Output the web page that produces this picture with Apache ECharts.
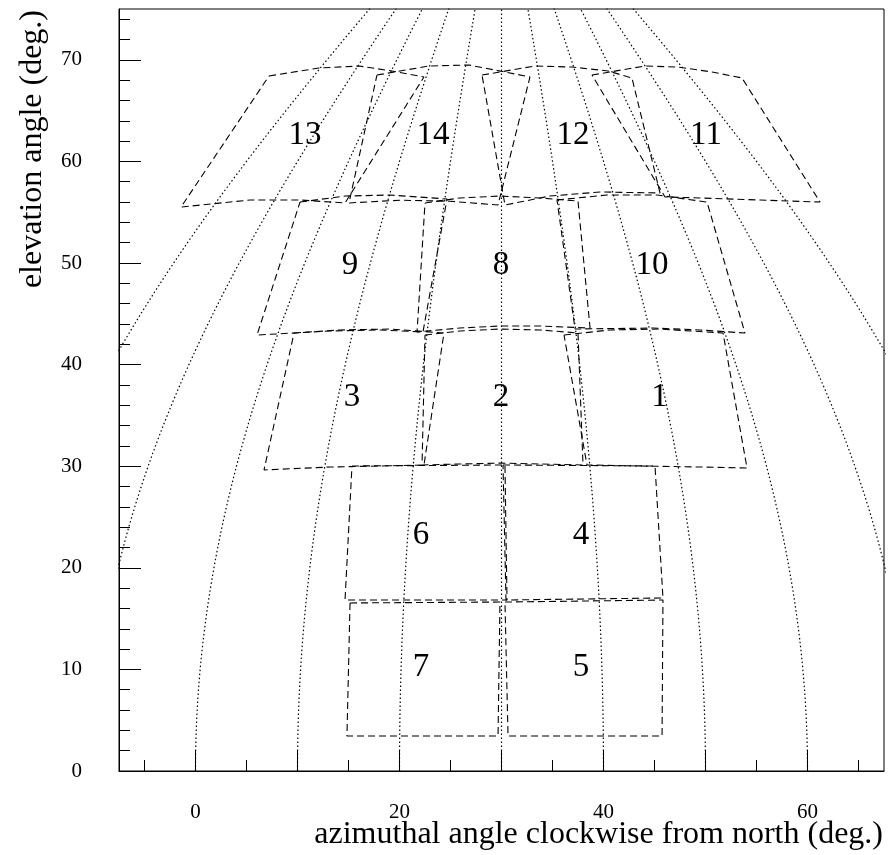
<!DOCTYPE html>
<html>
<head>
<meta charset="utf-8">
<script src="https://cdn.jsdelivr.net/npm/echarts@6/dist/echarts.min.js"></script>
<style>
html,body{margin:0;padding:0;background:#fff;}
#chart{width:889px;height:855px;}
</style>
</head>
<body>
<div id="chart"></div>
<script>
// ---- axis ticks / labels ----
const xLabelValues = [0, 20, 40, 60];
const xMajorTicks = [0, 10, 20, 30, 40, 50, 60];
const xMinorTicks = [-5, 5, 15, 25, 35, 45, 55, 65];
const yLabelValues = [0, 10, 20, 30, 40, 50, 60, 70];
const yMajorTicks = [0, 10, 20, 30, 40, 50, 60, 70];
const yMinorTicks = [2,4,6,8,12,14,16,18,22,24,26,28,32,34,36,38,42,44,46,48,52,54,56,58,62,64,66,68,72,74];

// ---- graticule: meridians of constant azimuth (deg.) ----
const meridianAz = [-20, -10, 0, 10, 20, 30, 40, 50, 60, 70, 80];
const centerAz = 30;

// ---- field numbers and label positions ----
const fieldIds = ['1','2','3','4','5','6','7','8','9','10','11','12','13','14'];
const labelX = [45.5, 29.95, 15.35, 37.8, 37.8, 22.1, 22.1, 29.95, 15.15, 44.75, 50.05, 37.0, 10.74, 23.28];
const labelY = [36.8, 36.8, 36.8, 23.2, 10.2, 23.2, 10.2, 49.8, 49.8, 49.8, 62.6, 62.6, 62.6, 62.6];

// ---- field outlines (projected azimuth, elevation) ----
const field1 = [[36.13,42.91],[40.64,43.41],[45.54,43.50],[51.72,43.11],[54.07,29.82],[49.46,29.92],[43.58,30.02],[38.38,30.12],[36.13,42.91]];
const field2 = [[22.50,42.91],[25.93,43.31],[29.85,43.50],[33.77,43.41],[37.50,43.11],[37.99,30.12],[33.77,30.22],[29.85,30.31],[25.93,30.22],[22.21,30.12],[22.50,42.91]];
const field3 = [[9.66,43.11],[14.17,43.41],[19.07,43.50],[24.36,43.11],[22.40,30.12],[18.09,30.02],[13.19,29.92],[6.72,29.63],[9.66,43.11]];
const field4 = [[30.15,30.12],[45.05,30.02],[45.83,17.03],[30.44,16.83],[30.15,30.12]];
const field5 = [[30.34,16.63],[45.83,16.83],[45.74,3.44],[30.64,3.44],[30.34,16.63]];
const field6 = [[15.34,30.02],[30.34,30.12],[30.54,16.83],[14.66,16.83],[15.34,30.02]];
const field7 = [[15.15,16.54],[29.85,16.63],[29.66,3.44],[14.85,3.44],[15.15,16.54]];
const field8 = [[22.50,55.91],[25.93,56.40],[29.85,56.59],[33.77,56.40],[37.50,56.10],[38.68,43.60],[33.77,43.80],[29.85,43.80],[25.93,43.60],[21.72,43.21],[22.50,55.91]];
const field9 = [[10.25,56.00],[14.66,56.59],[19.07,56.69],[24.66,56.30],[22.30,43.21],[18.09,43.41],[13.19,43.31],[6.03,42.91],[10.25,56.00]];
const field10 = [[35.44,56.20],[40.34,56.69],[45.25,56.69],[50.15,56.00],[53.87,43.11],[49.46,43.41],[44.85,43.60],[37.21,43.50],[35.44,56.20]];
const field11 = [[38.87,68.50],[44.07,69.39],[47.30,69.29],[50.64,68.80],[53.58,68.21],[61.23,56.00],[55.34,56.20],[49.46,56.40],[46.03,56.50],[38.87,68.50]];
const field12 = [[28.09,68.50],[33.28,69.39],[36.91,69.29],[40.44,68.90],[42.79,68.21],[45.54,56.89],[39.66,56.99],[34.75,56.59],[30.34,55.71],[28.09,68.50]];
const field13 = [[7.21,68.41],[12.11,69.19],[16.03,69.39],[19.26,68.90],[22.40,68.31],[14.66,55.91],[10.25,56.20],[5.34,56.20],[-1.42,55.51],[7.21,68.41]];
const field14 = [[17.79,68.50],[22.89,69.39],[26.81,69.49],[29.36,68.99],[32.79,68.31],[29.66,55.71],[24.95,56.08],[20.05,56.18],[15.05,55.91],[17.79,68.50]];
const fields = [field1, field2, field3, field4, field5, field6, field7, field8, field9, field10, field11, field12, field13, field14];

const serif = 'Liberation Serif';

// graticule curves through the display projection
function meridianPath(az) {
  const pts = [];
  for (let el = 0; el <= 76; el += 0.5) {
    const x = centerAz + (az - centerAz) * Math.cos(el * Math.PI / 180);
    pts.push([x, el]);
  }
  return pts;
}

const series = [];
meridianAz.forEach(function (az) {
  series.push({
    type: 'line', data: meridianPath(az), showSymbol: false, silent: true,
    clip: true, z: 1,
    lineStyle: { color: '#000', width: 1.2, type: [1.5, 2.5] }
  });
});
fields.forEach(function (f) {
  series.push({
    type: 'line', data: f, showSymbol: false, silent: true, clip: true, z: 2,
    lineStyle: { color: '#000', width: 1.1, type: [7, 4] }
  });
});
series.push({
  type: 'scatter', silent: true, z: 3,
  symbolSize: 2, itemStyle: { color: 'rgba(0,0,0,0)' },
  data: fieldIds.map(function (id, i) { return { value: [labelX[i], labelY[i]], name: id }; }),
  label: {
    show: true, position: 'inside', formatter: '{b}', opacity: 1,
    fontFamily: serif, fontSize: 33, fontWeight: 'normal', color: '#000'
  }
});

const chart = echarts.init(document.getElementById('chart'), null, { renderer: 'canvas' });
chart.setOption({
  animation: false,
  backgroundColor: '#fff',
  grid: {
    left: 119, right: 5, top: 9, bottom: 84,
    show: true, borderColor: '#000', borderWidth: 1,
    containLabel: false, outerBoundsMode: 'none'
  },
  xAxis: [{
    type: 'value', min: -7.5, max: 67.5, position: 'bottom',
    axisLine: { show: true, onZero: false, lineStyle: { color: '#000', width: 1 } },
    axisTick: { show: true, inside: true, length: 21, customValues: xMajorTicks, lineStyle: { color: '#000', width: 1 } },
    axisLabel: { show: true, customValues: xLabelValues, margin: 31, fontFamily: serif, fontSize: 21, color: '#000' },
    splitLine: { show: false },
    name: 'azimuthal angle clockwise from north (deg.)',
    nameLocation: 'end', nameGap: -1, nameMoveOverlap: false,
    nameTextStyle: { fontFamily: serif, fontSize: 32, fontWeight: 'normal', color: '#000', align: 'right', verticalAlign: 'top', padding: [48, 0, 0, 0] }
  }, {
    type: 'value', min: -7.5, max: 67.5, position: 'bottom',
    axisLine: { show: false, onZero: false },
    axisTick: { show: true, inside: true, length: 11, customValues: xMinorTicks, lineStyle: { color: '#000', width: 1 } },
    axisLabel: { show: false },
    splitLine: { show: false }
  }],
  yAxis: [{
    type: 'value', min: 0, max: 75, position: 'left',
    axisLine: { show: true, onZero: false, lineStyle: { color: '#000', width: 1 } },
    axisTick: { show: true, inside: true, length: 22, customValues: yMajorTicks, lineStyle: { color: '#000', width: 1 } },
    axisLabel: { show: true, customValues: yLabelValues, margin: 37, fontFamily: serif, fontSize: 21, color: '#000' },
    splitLine: { show: false },
    name: 'elevation angle (deg.)',
    nameLocation: 'end', nameGap: 0, nameRotate: 90, nameMoveOverlap: false,
    nameTextStyle: { fontFamily: serif, fontSize: 32, fontWeight: 'normal', color: '#000', align: 'right', verticalAlign: 'bottom', padding: [0, 1, 70, 0] }
  }, {
    type: 'value', min: 0, max: 75, position: 'left',
    axisLine: { show: false, onZero: false },
    axisTick: { show: true, inside: true, length: 11, customValues: yMinorTicks, lineStyle: { color: '#000', width: 1 } },
    axisLabel: { show: false },
    splitLine: { show: false }
  }],
  series: series
});
</script>
</body>
</html>
